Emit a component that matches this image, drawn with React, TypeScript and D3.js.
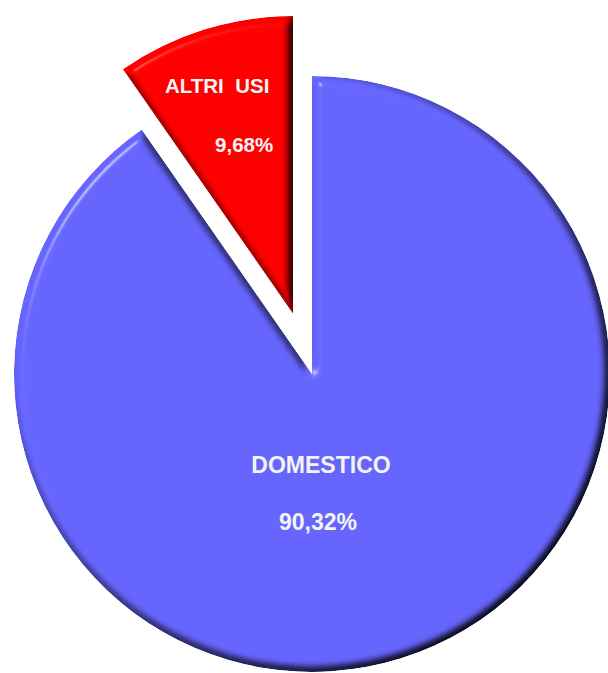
import React from "react";
import * as d3 from "d3";

const categories = ["DOMESTICO", "ALTRI USI"];
const values = [90.32, 9.68];
const valueLabels = ["90,32%", "9,68%"];
const colors = ["#6666FF", "#FF0000"];
const explode = [0, 63];

const W = 608;
const H = 673;
const cx = 312;
const cy = 374;
const R = 298;

// label placement relative to slice apex
const labelOffsets = [
  { nx: 9, ny: 99, vx: 6, vy: 156, size: 23 },
  { nx: -76, ny: -221, vx: -49, vy: -162, size: 20.5 },
];

export default function App() {
  const pie = d3.pie<number>().sort(null).value((d) => d);
  const arcs = pie(values);
  const arcGen = d3.arc<d3.PieArcDatum<number>>().innerRadius(0).outerRadius(R);

  return (
    <svg
      width={W}
      height={H}
      style={{ position: "absolute", left: 0, top: 0, background: "#fff" }}
      fontFamily="'Liberation Sans', Arial, sans-serif"
    >
      <defs>
        <filter id="bevel" x="-5%" y="-5%" width="110%" height="110%" colorInterpolationFilters="sRGB">
          <feGaussianBlur in="SourceAlpha" stdDeviation="5" result="blur" />
          <feDiffuseLighting in="blur" surfaceScale="8" diffuseConstant="1.155" lightingColor="#fff" result="diff">
            <feDistantLight azimuth={225} elevation={60} />
          </feDiffuseLighting>
          <feComposite in="SourceGraphic" in2="diff" operator="arithmetic" k1={1} k2={0} k3={0} k4={0} result="lit" />
          <feSpecularLighting in="blur" surfaceScale="8" specularConstant="0.35" specularExponent="70" lightingColor="#fff" result="spec">
            <feDistantLight azimuth={225} elevation={45} />
          </feSpecularLighting>
          <feComposite in="spec" in2="SourceAlpha" operator="in" result="specIn" />
          <feComposite in="lit" in2="specIn" operator="arithmetic" k1={0} k2={1} k3={1} k4={0} result="out" />
          <feComposite in="out" in2="SourceAlpha" operator="in" />
        </filter>
      </defs>
      {arcs.map((a, i) => {
        const mid = (a.startAngle + a.endAngle) / 2;
        const ox = cx + explode[i] * Math.sin(mid);
        const oy = cy - explode[i] * Math.cos(mid);
        const lo = labelOffsets[i];
        return (
          <g key={categories[i]} transform={`translate(${ox},${oy})`}>
            <path d={arcGen(a) || ""} fill={colors[i]} filter="url(#bevel)" />
            <text
              x={lo.nx}
              y={lo.ny}
              textAnchor="middle"
              fontSize={lo.size}
              fontWeight="bold"
              fill="#f4f4f4"
              style={{ whiteSpace: "pre" }}
            >
              {i === 1 ? "ALTRI  USI" : categories[i]}
            </text>
            <text
              x={lo.vx}
              y={lo.vy}
              textAnchor="middle"
              fontSize={lo.size}
              fontWeight="bold"
              fill="#f4f4f4"
            >
              {valueLabels[i]}
            </text>
          </g>
        );
      })}
    </svg>
  );
}
